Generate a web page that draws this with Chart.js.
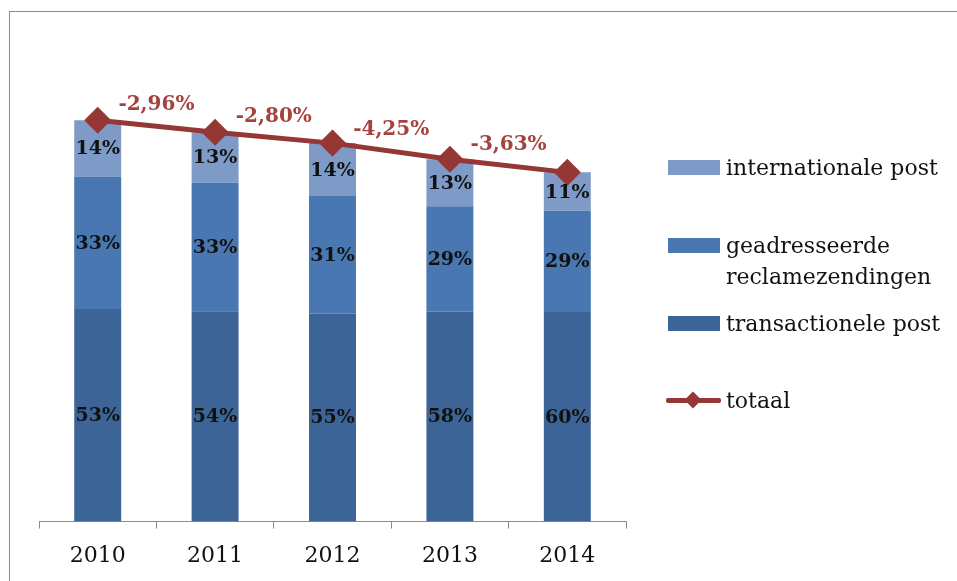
<!DOCTYPE html>
<html>
<head>
<meta charset="utf-8">
<script src="https://cdn.jsdelivr.net/npm/chart.js@4.4.0/dist/chart.umd.min.js"></script>
<style>
  body { margin: 0; background: #fff; }
  #wrap { position: relative; width: 957px; height: 581px; overflow: hidden; }
  #frame { position: absolute; left: 9px; top: 11px; width: 2000px; height: 2000px;
           border-left: 1px solid #8c8c8c; border-top: 1px solid #8c8c8c; }
  #grafiek { position: absolute; left: 0; top: 0; }
  #legend { position: absolute; left: 0; top: 0; font-family: 'DejaVu Serif', serif; font-size: 22px; color: #111; }
  .item { position: absolute; left: 668px; line-height: 31px; white-space: nowrap; }
  .box { position: absolute; left: 0; top: 8px; width: 52px; height: 15px; }
  .txt { position: absolute; left: 58px; top: 0; }
  .lijn { position: absolute; left: -2px; top: 13px; width: 55px; height: 5px; background: #953735; border-radius: 2px; }
  .ruit { position: absolute; left: 19px; top: 9px; width: 12px; height: 12px; background: #953735; transform: rotate(45deg); }
</style>
</head>
<body>
<div id="wrap">
  <div id="frame"></div>
  <canvas id="grafiek" width="957" height="581"></canvas>
  <div id="legend"></div>
</div>
<script>
// Gegevens
const jaren = ['2010', '2011', '2012', '2013', '2014'];
const transactioneel = [53, 54, 55, 58, 60];   // aandeel in %
const geadresseerd = [33, 33, 31, 29, 29];
const internationaal = [14, 13, 14, 13, 11];
const totaal = [100, 97.04, 94.32, 90.31, 87.03]; // index, 2010 = 100
const verandering = ['-2,96%', '-2,80%', '-4,25%', '-3,63%'];

const kleuren = {
  transactioneel: '#3d6497',
  geadresseerd: '#4877b1',
  internationaal: '#7e9bc8',
  totaal: '#953735'
};

// absolute hoogte van elk segment = aandeel van het totaal
const deel = arr => arr.map((v, i) => v * totaal[i] / 100);
const aandelen = [transactioneel, geadresseerd, internationaal];

// Labels in de balken en boven de lijn
const labelPlugin = {
  id: 'labels',
  afterDatasetsDraw(chart) {
    const ctx = chart.ctx;
    ctx.save();
    ctx.font = 'bold 19px "DejaVu Serif"';
    ctx.textAlign = 'center';
    ctx.textBaseline = 'middle';
    ctx.fillStyle = '#111';
    aandelen.forEach((arr, di) => {
      chart.getDatasetMeta(di).data.forEach((bar, i) => {
        ctx.fillText(arr[i] + '%', bar.x, (bar.y + bar.base) / 2 + 1);
      });
    });
    const punten = chart.getDatasetMeta(3).data;
    ctx.fillStyle = '#a4423f';
    ctx.font = 'bold 20px "DejaVu Serif"';
    verandering.forEach((t, i) => {
      const a = punten[i], b = punten[i + 1];
      ctx.fillText(t, (a.x + b.x) / 2, (a.y + b.y) / 2 - 21);
    });
    ctx.restore();
  }
};

new Chart(document.getElementById('grafiek'), {
  data: {
    labels: jaren,
    datasets: [
      { type: 'bar', label: 'transactionele post', data: deel(transactioneel),
        backgroundColor: kleuren.transactioneel, stack: 'post', order: 1,
        barPercentage: 0.5, categoryPercentage: 0.8 },
      { type: 'bar', label: 'geadresseerde reclamezendingen', data: deel(geadresseerd),
        backgroundColor: kleuren.geadresseerd, stack: 'post', order: 1,
        barPercentage: 0.5, categoryPercentage: 0.8 },
      { type: 'bar', label: 'internationale post', data: deel(internationaal),
        backgroundColor: kleuren.internationaal, stack: 'post', order: 1,
        barPercentage: 0.5, categoryPercentage: 0.8 },
      { type: 'line', label: 'totaal', data: totaal, stack: 'totaal', order: 0,
        borderColor: kleuren.totaal, backgroundColor: kleuren.totaal, borderWidth: 5,
        pointStyle: 'rectRot', pointRadius: 10, pointBackgroundColor: kleuren.totaal,
        pointBorderColor: kleuren.totaal, tension: 0 }
    ]
  },
  options: {
    responsive: false,
    animation: false,
    layout: { padding: { top: 20, left: 39, right: 331, bottom: -2 } },
    plugins: { legend: { display: false }, tooltip: { enabled: false } },
    scales: {
      x: {
        grid: { display: true, offset: true, drawOnChartArea: false, drawTicks: true,
                tickLength: 7, color: '#8c8c8c' },
        border: { display: true, color: '#8c8c8c', width: 1 },
        ticks: { color: '#111', padding: 14, font: { family: 'DejaVu Serif', size: 22 } }
      },
      y: { display: false, stacked: true, min: 0, max: 125 }
    }
  },
  plugins: [labelPlugin]
});

// Legenda
const legendItems = [
  { tekst: 'internationale post', kleur: kleuren.internationaal, top: 152 },
  { tekst: 'geadresseerde<br>reclamezendingen', kleur: kleuren.geadresseerd, top: 230 },
  { tekst: 'transactionele post', kleur: kleuren.transactioneel, top: 308 },
  { tekst: 'totaal', lijn: true, top: 385 }
];
const legend = document.getElementById('legend');
legendItems.forEach(it => {
  const d = document.createElement('div');
  d.className = 'item';
  d.style.top = it.top + 'px';
  const sym = it.lijn
    ? '<div class="lijn"></div><div class="ruit"></div>'
    : `<div class="box" style="background:${it.kleur}"></div>`;
  d.innerHTML = sym + `<div class="txt">${it.tekst}</div>`;
  legend.appendChild(d);
});
</script>
</body>
</html>
